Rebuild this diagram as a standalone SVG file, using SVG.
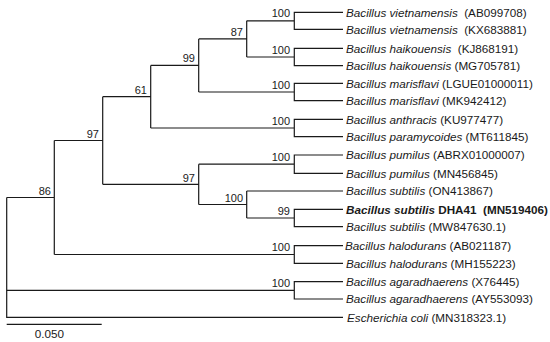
<svg xmlns="http://www.w3.org/2000/svg" width="550" height="342" viewBox="0 0 550 342">
<style>
.br{fill:none;stroke:#1a1a1a;stroke-width:1.2}
.bs{font-family:"Liberation Sans",Arial,sans-serif;font-size:11px;fill:#1a1a1a;text-anchor:end}
.lf{font-family:"Liberation Sans",Arial,sans-serif;font-size:11.7px;fill:#1a1a1a}
.sp{font-style:italic}
.b{font-weight:bold}
</style>
<rect width="550" height="342" fill="#fff"/>
<g id="connectors" class="br">
<path d="M343 12.3H294.3V29.3H343M294.3 20.8H246.7"/>
<path d="M343 48.3H294.3V65.7H343M294.3 57H246.7"/>
<path d="M246.7 20.8V57M246.7 38.9H198.7"/>
<path d="M343 83.3H294.3V100.7H343M294.3 92H198.7"/>
<path d="M198.7 38.9V92M198.7 65.45H150.7"/>
<path d="M343 119.3H294.3V136.7H343M294.3 128H150.7"/>
<path d="M150.7 65.45V128M150.7 96.7H102.7"/>
<path d="M343 155H294.3V173.3H343M294.3 164.2H198.7"/>
<path d="M343 191H246.7"/>
<path d="M343 209.3H294.3V226.7H343M294.3 218H246.7"/>
<path d="M246.7 191V218M246.7 204.5H198.7"/>
<path d="M198.7 164.2V204.5M198.7 184.3H102.7"/>
<path d="M102.7 96.7V184.3M102.7 140.5H54.3"/>
<path d="M343 245.7H294.3V263.3H343M294.3 254.5H54.3"/>
<path d="M54.3 140.5V254.5M54.3 197.5H6.7"/>
<path d="M343 281.7H294.3V299H343M294.3 290.3H6.7"/>
<path d="M6.7 197.5V317.3H343"/>
</g>
<g id="bootstrap">
<text class="bs" x="290" y="17.3">100</text>
<text class="bs" x="290" y="53.5">100</text>
<text class="bs" x="290" y="88.5">100</text>
<text class="bs" x="290" y="124.5">100</text>
<text class="bs" x="290" y="160.7">100</text>
<text class="bs" x="290" y="214.5">99</text>
<text class="bs" x="290" y="251">100</text>
<text class="bs" x="290" y="286.8">100</text>
<text class="bs" x="243" y="35.9">87</text>
<text class="bs" x="195" y="62">99</text>
<text class="bs" x="147" y="93.5">61</text>
<text class="bs" x="99" y="137.5">97</text>
<text class="bs" x="195" y="181.5">97</text>
<text class="bs" x="243" y="201.5">100</text>
<text class="bs" x="51" y="195">86</text>
</g>
<g id="leaf-AB099708"><text class="lf" x="346" y="16.5"><tspan class="sp">Bacillus vietnamensis</tspan>&#160; (AB099708)</text></g>
<g id="leaf-KX683881"><text class="lf" x="346" y="33.5"><tspan class="sp">Bacillus vietnamensis</tspan>&#160; (KX683881)</text></g>
<g id="leaf-KJ868191"><text class="lf" x="346" y="52.5"><tspan class="sp">Bacillus haikouensis</tspan>&#160; (KJ868191)</text></g>
<g id="leaf-MG705781"><text class="lf" x="346" y="69.9"><tspan class="sp">Bacillus haikouensis</tspan> (MG705781)</text></g>
<g id="leaf-LGUE01000011"><text class="lf" x="346" y="87.5"><tspan class="sp">Bacillus marisflavi</tspan> (LGUE01000011)</text></g>
<g id="leaf-MK942412"><text class="lf" x="346" y="104.9"><tspan class="sp">Bacillus marisflavi</tspan> (MK942412)</text></g>
<g id="leaf-KU977477"><text class="lf" x="346" y="123.5"><tspan class="sp">Bacillus anthracis</tspan> (KU977477)</text></g>
<g id="leaf-MT611845"><text class="lf" x="346" y="140.9"><tspan class="sp">Bacillus paramycoides</tspan> (MT611845)</text></g>
<g id="leaf-ABRX01000007"><text class="lf" x="346" y="159.2"><tspan class="sp">Bacillus pumilus</tspan> (ABRX01000007)</text></g>
<g id="leaf-MN456845"><text class="lf" x="346" y="177.5"><tspan class="sp">Bacillus pumilus</tspan> (MN456845)</text></g>
<g id="leaf-ON413867"><text class="lf" x="346" y="195.2"><tspan class="sp">Bacillus subtilis</tspan> (ON413867)</text></g>
<g id="leaf-MN519406"><text class="lf b" x="346" y="213.5"><tspan class="sp">Bacillus subtilis</tspan> DHA41&#160; (MN519406)</text></g>
<g id="leaf-MW847630"><text class="lf" x="346" y="230.9"><tspan class="sp">Bacillus subtilis</tspan> (MW847630.1)</text></g>
<g id="leaf-AB021187"><text class="lf" x="345" y="249.9"><tspan class="sp">Bacillus halodurans</tspan> (AB021187)</text></g>
<g id="leaf-MH155223"><text class="lf" x="346" y="267.5"><tspan class="sp">Bacillus halodurans</tspan> (MH155223)</text></g>
<g id="leaf-X76445"><text class="lf" x="346" y="285.9"><tspan class="sp">Bacillus agaradhaerens</tspan> (X76445)</text></g>
<g id="leaf-AY553093"><text class="lf" x="346" y="303.2"><tspan class="sp">Bacillus agaradhaerens</tspan> (AY553093)</text></g>
<g id="leaf-MN318323"><text class="lf" x="347" y="321.5"><tspan class="sp">Escherichia coli</tspan> (MN318323.1)</text></g>
<g id="scale">
<path class="br" d="M6.7 324.3H101.7"/>
<text class="lf" x="49.3" y="338.3" text-anchor="middle">0.050</text>
</g>
</svg>
